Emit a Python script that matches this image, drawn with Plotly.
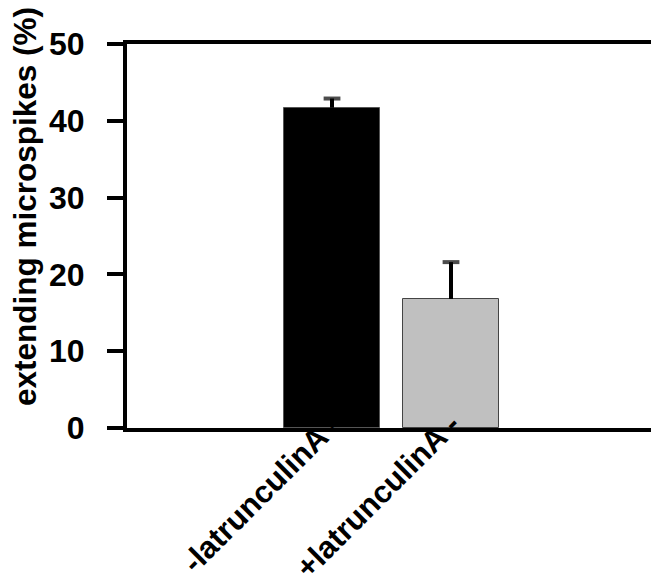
import plotly.graph_objects as go

categories = ["-latrunculinA -", "+latrunculinA -"]
values = [41.7, 16.8]
err_plus = [1.2, 4.8]
bar_colors = ["#000000", "#C0C0C0"]
line_colors = ["#555555", "#444444"]
y_ticks = [0, 10, 20, 30, 40, 50]
y_title = "extending microspikes (%)"

FONT = "Liberation Sans"
FS = 32

W, H = 651, 572
L, T, R, B = 119, 36, 5, 152

fig = go.Figure()
fig.add_trace(go.Bar(
    x=[0, 1],
    y=values,
    width=0.807,
    marker=dict(color=bar_colors, line=dict(color=line_colors, width=1)),
    showlegend=False,
))
# upper-only error bars: stem from bar top to value+error, cap at the top
for i, (v, e) in enumerate(zip(values, err_plus)):
    fig.add_trace(go.Scatter(
        x=[i, i], y=[v, v + e],
        mode="lines+markers",
        line=dict(color="#000000", width=4),
        marker=dict(symbol="line-ew-open", size=[0, 12],
                    line=dict(color="#000000", width=4), color="#000000"),
        showlegend=False, hoverinfo="skip",
    ))

fig.update_layout(
    width=W, height=H,
    margin=dict(l=L, r=R, t=T, b=B),
    plot_bgcolor="white", paper_bgcolor="white",
    font=dict(family=FONT, size=FS, color="#000000", weight="bold"),
    bargap=0,
)
fig.update_xaxes(
    range=[-1.723, 2.706],
    tickmode="array", tickvals=[0, 1], ticktext=categories,
    tickangle=-45,
    tickfont=dict(family=FONT, size=31, weight="bold"),
    ticklabelstandoff=-38, ticklabelshift=0,
    showline=True, linecolor="#000000", linewidth=4, mirror=True,
    showgrid=False, zeroline=False, ticks="", automargin=False,
)
fig.update_yaxes(
    range=[0, 50],
    tickvals=y_ticks,
    tickfont=dict(family=FONT, size=FS, weight="bold"),
    ticks="outside", ticklen=16, tickwidth=4, tickcolor="#000000",
    ticklabelstandoff=16,
    showline=True, linecolor="#000000", linewidth=4, mirror=True,
    showgrid=False, zeroline=False, automargin=False,
)
plot_w = W - L - R
plot_h = H - T - B
fig.add_annotation(
    text=y_title, textangle=-90,
    xref="paper", yref="paper",
    x=(17 - L) / plot_w, y=(plot_h - 199 + T) / plot_h,
    xanchor="center", yanchor="middle", showarrow=False,
    font=dict(family=FONT, size=31.5, weight="bold", color="#000000"),
)

fig.write_html("out.html")
